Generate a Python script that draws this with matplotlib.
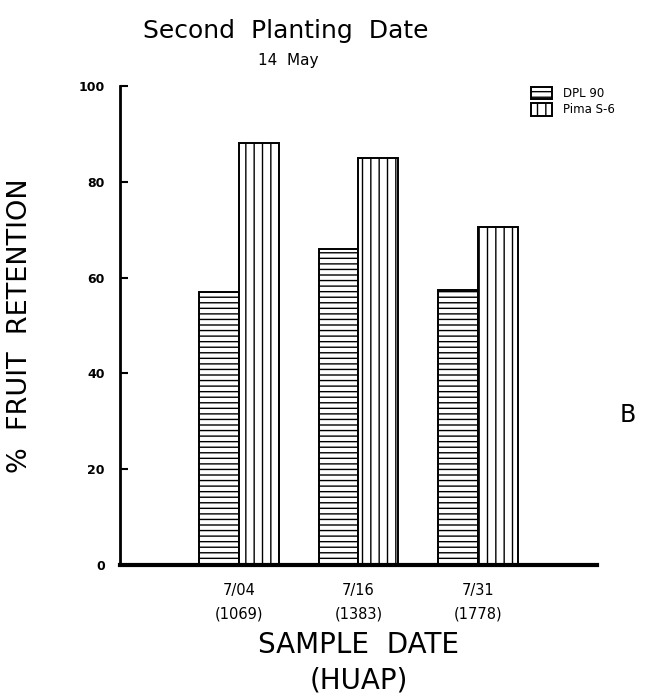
import numpy as np
import matplotlib
matplotlib.use('Agg')
import matplotlib.pyplot as plt

dates = ['7/04', '7/16', '7/31']
huap = ['(1069)', '(1383)', '(1778)']
dpl90 = [57, 66, 57.5]
pima_s6 = [88, 85, 70.5]

plt.rcParams['hatch.linewidth'] = 1.0
plt.rcParams['font.family'] = 'DejaVu Sans'

fig = plt.figure(figsize=(6.54, 6.98), dpi=100)
ax = fig.add_axes([0.1835, 0.1905, 0.7293, 0.6863])

X = np.arange(len(dates))
w = 0.335
ax.bar(X, dpl90, width=-w, align='edge', color='white', edgecolor='black',
       hatch='---', linewidth=1.4, label='DPL 90')
ax.bar(X, pima_s6, width=w, align='edge', color='white', edgecolor='black',
       hatch='||', linewidth=1.4, label='Pima S-6')

ax.set_xlim(-1, 3)
ax.set_ylim(0, 100)
ax.spines['top'].set_visible(False)
ax.spines['right'].set_visible(False)
ax.spines['left'].set_linewidth(2)
ax.spines['bottom'].set_linewidth(3)

ax.set_yticks(np.arange(0, 101, 20))
ax.tick_params(axis='y', direction='in', length=6, width=1.5, labelsize=9, pad=11)
for t in ax.get_yticklabels():
    t.set_fontweight('bold')
ax.set_xticks(X)
ax.set_xticklabels([d + '\n' + h for d, h in zip(dates, huap)], fontsize=10.5,
                   linespacing=1.7)
ax.tick_params(axis='x', length=0, pad=13)

ax.set_xlabel('SAMPLE  DATE\n(HUAP)', fontsize=20, linespacing=1.35, labelpad=7)
ax.set_ylabel('%  FRUIT  RETENTION', fontsize=19.5, labelpad=33)

fig.text(0.437, 0.955, 'Second  Planting  Date', ha='center', va='center', fontsize=18)
fig.text(0.44, 0.913, '14  May', ha='center', va='center', fontsize=11)
fig.text(0.96, 0.405, 'B', ha='center', va='center', fontsize=17)

ax.legend(loc='upper left', bbox_to_anchor=(0.812, 0.876),
          bbox_transform=fig.transFigure, frameon=False, fontsize=8.5,
          borderpad=0, borderaxespad=0,
          handlelength=1.8, handleheight=1.3, handletextpad=0.9, labelspacing=0.25)

fig.savefig('out.png', dpi=100)
